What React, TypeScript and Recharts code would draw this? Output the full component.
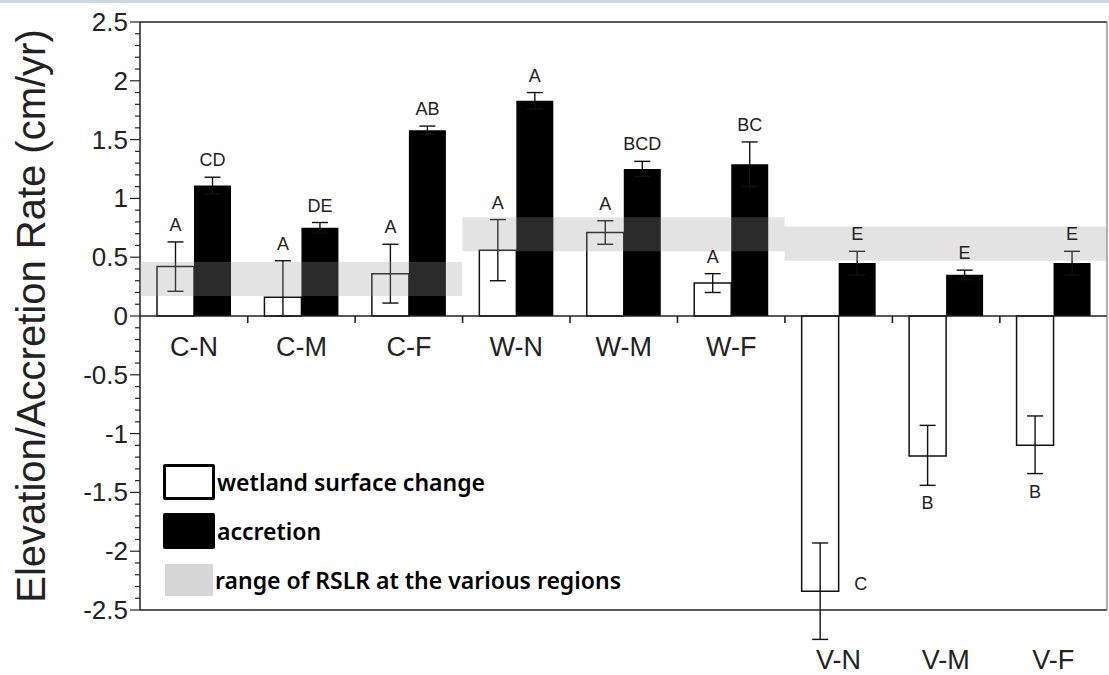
import React from 'react';
import {
  BarChart, Bar, XAxis, YAxis, ErrorBar, LabelList, ReferenceLine, ReferenceArea,
} from 'recharts';

// sites: C / W / V regions, N / M / F positions within each
const sites = ['C-N', 'C-M', 'C-F', 'W-N', 'W-M', 'W-F', 'V-N', 'V-M', 'V-F'];

// wetland surface change (cm/yr) and its error [below, above]
const surfaceChange = [0.42, 0.16, 0.36, 0.56, 0.71, 0.28, -2.34, -1.19, -1.1];
const surfaceErr = [
  [0.21, 0.21], [0.16, 0.31], [0.25, 0.25], [0.26, 0.26], [0.1, 0.1],
  [0.08, 0.08], [0.41, 0.41], [0.25, 0.26], [0.24, 0.25],
];
const surfaceLetters = ['A', 'A', 'A', 'A', 'A', 'A', 'C', 'B', 'B'];

// accretion (cm/yr) and its error
const accretion = [1.11, 0.75, 1.58, 1.83, 1.25, 1.29, 0.45, 0.35, 0.45];
const accretionErr = [0.07, 0.045, 0.035, 0.07, 0.065, 0.19, 0.1, 0.04, 0.1];
const accretionLetters = ['CD', 'DE', 'AB', 'A', 'BCD', 'BC', 'E', 'E', 'E'];

// RSLR range per region (first site .. last site)
const rslrRanges = [
  { from: 'C-N', to: 'C-F', low: 0.17, high: 0.46 },
  { from: 'W-N', to: 'W-F', low: 0.55, high: 0.84 },
  { from: 'V-N', to: 'V-F', low: 0.47, high: 0.76 },
];

const majorTicks = [-2.5, -2, -1.5, -1, -0.5, 0, 0.5, 1, 1.5, 2, 2.5];
const allTicks: number[] = [];
for (let i = -25; i <= 25; i++) allTicks.push(i / 10);

const legendItems = [
  { label: 'wetland surface change', kind: 'open' },
  { label: 'accretion', kind: 'solid' },
  { label: 'range of RSLR at the various regions', kind: 'band' },
];

const data = sites.map((site, i) => ({
  site,
  surface: surfaceChange[i],
  surfaceErr: surfaceErr[i],
  accretion: accretion[i],
  accretionErr: accretionErr[i],
}));

const W = 1109;
const H = 675;
const Y_AXIS_W = 140;
const MARGIN = { top: 21, right: 1, bottom: 0, left: 0 };
const BAND = (W - Y_AXIS_W - 1 - MARGIN.right - MARGIN.left) / sites.length;

const SANS = '"Liberation Sans", Arial, Helvetica, sans-serif';
const Y_MIN = -2.5;

const YTick = (props: any) => {
  const { x, y, payload } = props;
  const v = payload.value;
  const major = majorTicks.some((m) => Math.abs(m - v) < 1e-6);
  return (
    <g>
      <line x1={x - (major ? 10 : 5)} x2={x} y1={y} y2={y} stroke="#222" strokeWidth={1.2} />
      {major && (
        <text x={x - 12} y={y} textAnchor="end" dominantBaseline="central"
          fontFamily={SANS} fontSize={26} fill="#222">
          {String(Number(v.toFixed(1)))}
        </text>
      )}
    </g>
  );
};

// V sites hang below zero, so their names sit under the frame
const XTick = (props: any) => {
  const { x, y, payload } = props;
  if (!String(payload.value).startsWith('V')) return null;
  return (
    <text x={x} y={y + 50} textAnchor="middle" dominantBaseline="central"
      fontFamily={SANS} fontSize={27} fill="#222">
      {payload.value}
    </text>
  );
};

const letterStyle = { fontFamily: SANS, fontSize: 18, fill: '#222' };

const SurfaceLetter = (props: any) => {
  const { x, y, width, height, index } = props;
  const v = surfaceChange[index];
  const [lo, hi] = surfaceErr[index];
  const k = Math.abs(height) / Math.abs(v);
  const top = Math.min(y, y + height);
  const bottom = Math.max(y, y + height);
  const cx = x + width / 2;
  if (v >= 0) {
    return <text x={cx} y={top - hi * k - 11} textAnchor="middle" {...letterStyle}>{surfaceLetters[index]}</text>;
  }
  if (v - lo < Y_MIN) {
    return <text x={x + width + 22} y={bottom - 7} textAnchor="middle" dominantBaseline="central" {...letterStyle}>{surfaceLetters[index]}</text>;
  }
  return <text x={cx} y={bottom + lo * k + 24} textAnchor="middle" {...letterStyle}>{surfaceLetters[index]}</text>;
};

const AccretionLetter = (props: any) => {
  const { x, y, width, height, index } = props;
  const k = Math.abs(height) / Math.abs(accretion[index]);
  const top = Math.min(y, y + height);
  return (
    <text x={x + width / 2} y={top - accretionErr[index] * k - 11} textAnchor="middle" {...letterStyle}>
      {accretionLetters[index]}
    </text>
  );
};

// C and W site names sit just under the zero line; small tick at each site boundary
const SiteName = (props: any) => {
  const { x, y, height, index } = props;
  const name = sites[index];
  const base = Math.max(y, y + height);
  const bx = x - BAND / 2;
  return (
    <g>
      {index > 0 && <line x1={bx} x2={bx} y1={base} y2={base + 7} stroke="#222" strokeWidth={1.6} />}
      {!name.startsWith('V') && (
        <text x={x} y={base + 31} textAnchor="middle" dominantBaseline="central"
          fontFamily={SANS} fontSize={27} fill="#222">
          {name}
        </text>
      )}
    </g>
  );
};

const Legend = () => (
  <div style={{ position: 'absolute', left: 163, top: 454, fontFamily: '"Noto Sans", sans-serif', fontWeight: 600, fontSize: 23, color: '#000' }}>
    {legendItems.map((it) => (
      <div key={it.label} style={{ display: 'flex', alignItems: 'center', height: 49 }}>
        <div style={{
          width: it.kind === 'band' ? 48 : 46,
          height: it.kind === 'band' ? 32 : 30,
          marginLeft: it.kind === 'band' ? 2 : 0,
          border: it.kind === 'band' ? 'none' : '3px solid #000',
          borderRadius: it.kind === 'band' ? 0 : 2,
          background: it.kind === 'solid' ? '#000' : it.kind === 'band' ? '#d6d6d6' : '#fff',
        }} />
        <span style={{ marginLeft: 2, whiteSpace: 'nowrap' }}>{it.label}</span>
      </div>
    ))}
  </div>
);

export default function App() {
  return (
    <div style={{ position: 'absolute', left: 0, top: 0, width: W, height: H, background: '#fff', borderTop: '3px solid #cdd8e0', boxSizing: 'border-box' }}>
      <div style={{ position: 'absolute', left: 0, top: -3 }}>
        <BarChart width={W} height={H} data={data} barGap={0} barSize={37} margin={MARGIN}>
          <XAxis dataKey="site" axisLine={{ stroke: '#222', strokeWidth: 1.5 }} tickLine={false}
            tickSize={0} tickMargin={0} height={65} interval={0} tick={<XTick />} />
          <XAxis xAxisId="top" dataKey="site" orientation="top" height={1}
            axisLine={{ stroke: '#222', strokeWidth: 1.5 }} tick={false} tickLine={false} />
          <YAxis domain={[-2.5, 2.5]} ticks={allTicks} interval={0} width={Y_AXIS_W}
            axisLine={{ stroke: '#222', strokeWidth: 1.5 }} tickLine={false} tickSize={0} tickMargin={0}
            tick={<YTick />} allowDataOverflow
            label={{
              content: (p: any) => {
                const vb = p.viewBox;
                const cx = vb.x + 31;
                const cy = vb.y + vb.height / 2;
                return (
                  <text x={cx} y={cy} transform={`rotate(-90 ${cx} ${cy})`} textAnchor="middle"
                    dominantBaseline="central" fontFamily={SANS} fontSize={40} fill="#222">
                    Elevation/Accretion Rate (cm/yr)
                  </text>
                );
              },
            }} />
          <YAxis yAxisId="right" orientation="right" width={1} tick={false} tickLine={false}
            axisLine={{ stroke: '#666', strokeWidth: 1 }} />

          <Bar dataKey="surface" fill="#fff" stroke="#111" strokeWidth={1.5} isAnimationActive={false}>
            <ErrorBar dataKey="surfaceErr" width={8} stroke="#111" strokeWidth={1.4} direction="y" />
            <LabelList dataKey="surface" content={<SurfaceLetter />} />
          </Bar>
          <Bar dataKey="accretion" fill="#000" isAnimationActive={false}>
            <ErrorBar dataKey="accretionErr" width={8} stroke="#111" strokeWidth={1.4} direction="y" />
            <LabelList dataKey="accretion" content={<AccretionLetter />} />
            <LabelList dataKey="site" content={<SiteName />} />
          </Bar>

          {rslrRanges.map((r) => (
            <ReferenceArea key={r.from} x1={r.from} x2={r.to} y1={r.low} y2={r.high}
              fill="#999" fillOpacity={0.28} stroke="none" ifOverflow="visible" zIndex={1500} />
          ))}
          <ReferenceLine y={0} stroke="#222" strokeWidth={1.5} />
        </BarChart>
      </div>
      <Legend />
    </div>
  );
}
